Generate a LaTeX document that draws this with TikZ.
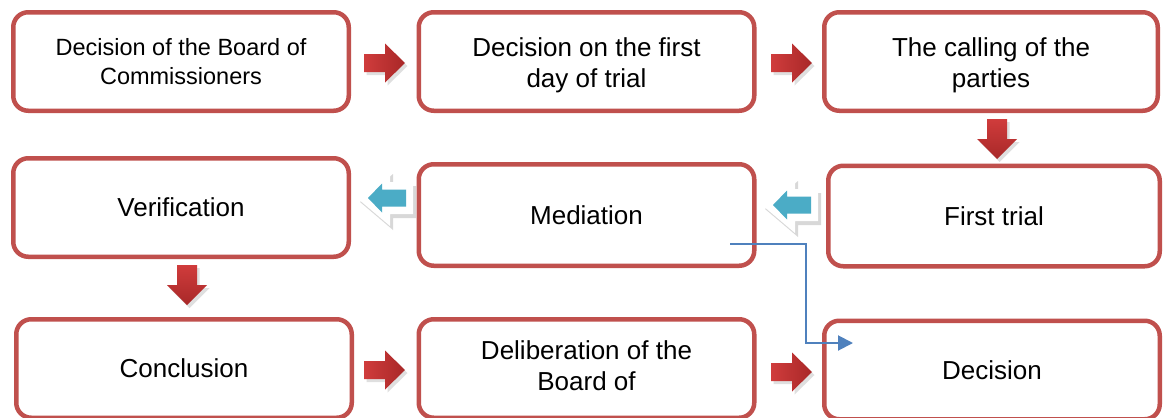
\documentclass[tikz,border=0pt]{standalone}
\usepackage{fontspec}
\setmainfont{Liberation Sans}
\usetikzlibrary{shadows,arrows.meta}
\definecolor{boxred}{HTML}{C0504D}
\definecolor{arrred}{HTML}{D03C3C}
\definecolor{arrdark}{HTML}{A82828}
\definecolor{arrblue}{HTML}{4BACC6}
\definecolor{linkblue}{HTML}{4F81BD}
\newcommand\redright[2]{%
  \path[redshadow, left color=arrred, right color=arrdark]
    (#1-41,#2-9) -- (#1-20,#2-9) -- (#1-20,#2-19.5) -- (#1,#2) -- (#1-20,#2+19.5) -- (#1-20,#2+9) -- (#1-41,#2+9) -- cycle;}
\newcommand\reddown[2]{%
  \path[redshadow, top color=arrred, bottom color=arrdark]
    (#1-10,#2-40) -- (#1+10,#2-40) -- (#1+10,#2-20) -- (#1+20,#2-20) -- (#1,#2) -- (#1-20,#2-20) -- (#1-10,#2-20) -- cycle;}
\newcommand\blueleft[2]{%
  \path[fill=white, drop shadow={shadow xshift=3pt, shadow yshift=-4pt, opacity=0.3}]
    (#1-11,#2) -- (#1+22,#2-28) -- (#1+22,#2-16) -- (#1+45,#2-16) -- (#1+45,#2+16) -- (#1+22,#2+16) -- (#1+22,#2+28) -- cycle;
  \fill[arrblue]
    (#1,#2) -- (#1+14,#2-14.5) -- (#1+14,#2-8.5) -- (#1+38,#2-8.5) -- (#1+38,#2+8.5) -- (#1+14,#2+8.5) -- (#1+14,#2+14.5) -- cycle;}
\begin{document}
\begin{tikzpicture}[x=1pt,y=-1pt,
  stepbox/.style={draw=boxred, line width=4.5pt, rounded corners=15pt, fill=white,
    minimum width=335.5pt, minimum height=98.5pt, inner sep=0pt, align=center,
    font=\fontsize{26}{31}\selectfont},
  smalltext/.style={font=\fontsize{23.5}{29}\selectfont},
  lowtext/.style={label={[yshift=-3.5pt, align=center, inner sep=0pt, font=\fontsize{26}{31}\selectfont]center:#1}},
  redshadow/.style={drop shadow={shadow xshift=2.5pt, shadow yshift=-3pt, opacity=0.25}},
  link/.style={draw=linkblue, line width=2pt, -{Triangle[length=15pt,width=15pt]}}]
\useasboundingbox (0,0) rectangle (1163,418);
\clip (0,0) rectangle (1163,418);
\fill[white] (0,0) rectangle (1163,418);
% row 1
\node[stepbox, smalltext] (b1) at (181,61.5) {Decision of the Board of\\Commissioners};
\node[stepbox, lowtext={Decision on the first\\day of trial}] (b2) at (586.5,61.5) {};
\node[stepbox, minimum width=333.5pt, lowtext={The calling of the\\parties}] (b3) at (991,61.5) {};
% row 2
\node[stepbox] (b4) at (181,207.5) {Verification};
\node[stepbox, minimum height=101.5pt] (b5) at (586.5,215) {Mediation};
\node[stepbox, minimum width=331.5pt, minimum height=100.5pt] (b6) at (994,216) {First trial};
% row 3
\node[stepbox] (b7) at (184,368.5) {Conclusion};
\node[stepbox] (b8) at (586.5,368.5) {Deliberation of the\\Board of\vphantom{g}};
\node[stepbox, minimum width=335.5pt] (b9) at (992,370) {Decision};
% block arrows
\redright{405}{63}
\redright{812}{63}
\reddown{997}{159}
\blueleft{773}{205}
\blueleft{368}{198}
\reddown{187}{305}
\redright{405}{370}
\redright{812}{372}
% connector
\coordinate (ls) at (730,244);
\coordinate (le) at (853,343);
\draw[link] (ls) -- ++(76,0) |- (le);
\end{tikzpicture}
\end{document}
